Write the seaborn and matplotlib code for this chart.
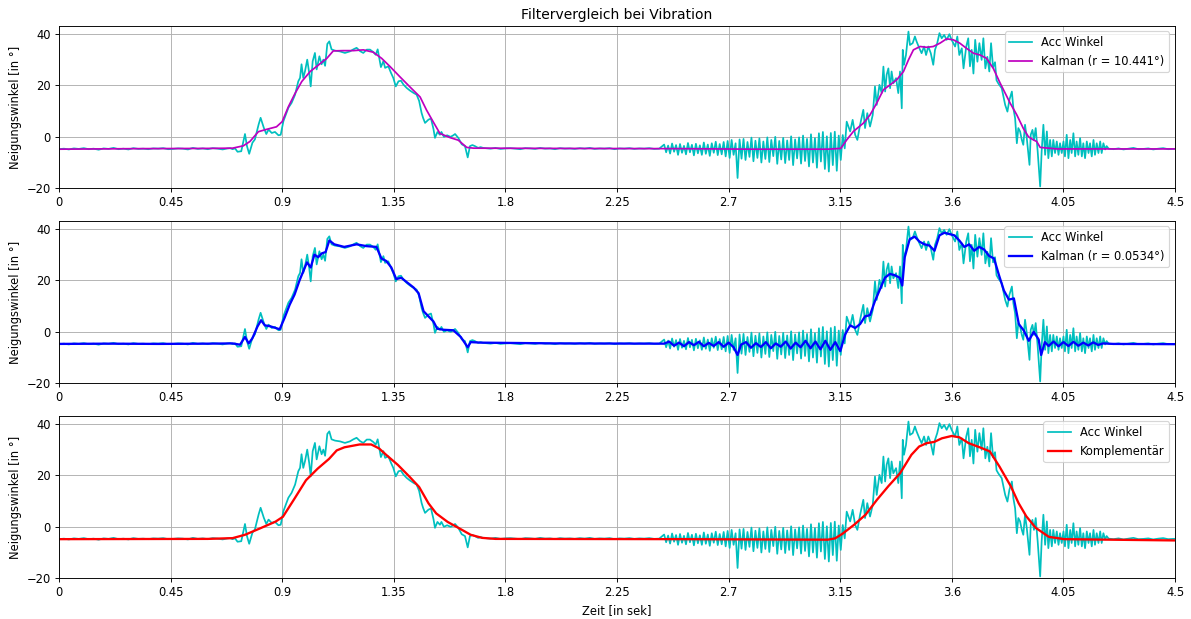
import numpy as np
import matplotlib
matplotlib.use("Agg")
import matplotlib.pyplot as plt
import seaborn as sns

# ---- Acc Winkel (raw accelerometer angle) ----
# calm start, 0 .. 0.68 s, step 0.02
acc_calm1 = [-4.8, -4.6, -4.9, -4.5, -4.7, -4.4, -4.8, -4.6, -5.0, -4.5,
             -4.7, -4.3, -4.8, -4.6, -4.9, -4.4, -4.7, -4.6, -4.8, -4.5,
             -4.6, -4.4, -4.8, -4.7, -4.5, -4.6, -4.9, -4.3, -4.7, -4.5,
             -4.8, -4.4, -4.6, -4.9, -4.5]
# first tilt
acc_bump_t = [0.690, 0.700, 0.710, 0.720, 0.735, 0.750, 0.758, 0.767, 0.780, 0.790,
              0.805, 0.813, 0.826, 0.836, 0.845, 0.858, 0.871, 0.885, 0.894, 0.905,
              0.925, 0.938, 0.952, 0.965, 0.972, 0.978, 0.985, 0.992, 1.001, 1.009,
              1.015, 1.023, 1.032, 1.039, 1.050, 1.059, 1.066, 1.073, 1.082, 1.090,
              1.099, 1.113, 1.133, 1.153, 1.173, 1.187, 1.200, 1.214, 1.227, 1.241,
              1.254, 1.268, 1.277, 1.285, 1.298, 1.308, 1.315, 1.328, 1.339, 1.348,
              1.358, 1.369, 1.379, 1.389, 1.402, 1.415, 1.429, 1.442, 1.452, 1.462,
              1.468, 1.476, 1.490, 1.500, 1.510, 1.516, 1.526, 1.536, 1.542, 1.552,
              1.565, 1.579, 1.590, 1.597, 1.610, 1.624, 1.637, 1.648, 1.657, 1.667,
              1.677, 1.690, 1.700, 1.710]
acc_bump_v = [-4.4, -4.8, -4.5, -5.8, -5.6, 1.1, -3.6, -6.6, -2.3, -1.0,
              4.8, 7.4, 3.5, 1.1, 2.8, 1.5, 1.9, 0.6, 0.8, 6.1,
              11.3, 13.2, 16.4, 21.6, 22.9, 28.2, 22.9, 25.5, 30.0, 24.8,
              19.6, 29.4, 32.6, 26.2, 31.3, 28.2, 30.0, 27.6, 36.1, 37.1,
              34.0, 33.5, 33.2, 32.6, 33.2, 34.0, 34.6, 33.3, 32.6, 33.9,
              33.9, 32.9, 31.9, 34.0, 27.1, 29.4, 26.8, 27.4, 24.8, 22.9,
              19.6, 21.6, 21.8, 20.3, 19.0, 18.0, 17.1, 16.4, 14.0, 9.3,
              7.4, 5.4, 6.7, 7.1, 3.0, -0.4, 1.9, 0.8, 1.9, 0.0,
              0.6, 0.0, 0.6, 1.1, -0.4, -2.9, -3.6, -8.0, -3.6, -3.2,
              -3.6, -4.3, -4.0, -4.3]
# calm middle, 1.72 .. 2.42 s, step 0.02
acc_calm2 = [-4.4, -4.6, -4.3, -4.7, -4.5, -4.4, -4.6, -4.8, -4.4, -4.5,
             -4.7, -4.3, -4.6, -4.5, -4.8, -4.4, -4.6, -4.5, -4.7, -4.4,
             -4.6, -4.3, -4.7, -4.5, -4.6, -4.4, -4.8, -4.5, -4.6, -4.4,
             -4.7, -4.5, -4.6, -4.4, -4.7, -4.6]
# vibration at rest, 2.44 .. 3.144 s, step 0.008
acc_vib = [-3.0, -6.0, -3.4, -6.5, -2.6, -5.8, -3.2, -7.0, -2.8, -6.2,
           -3.5, -6.8, -2.4, -6.0, -3.1, -7.2, -2.7, -6.4, -3.3, -7.0,
           -2.2, -6.6, -3.0, -7.4, -2.5, -6.2, -1.9, -7.1, -2.8, -6.8,
           -2.0, -7.6, -1.6, -8.2, -1.2, -7.0, -2.5, -16.0, -1.0, -8.5,
           -0.8, -9.0, -2.0, -7.8, -0.3, -9.5, -1.5, -8.2, -0.6, -10.0,
           -1.8, -8.6, -0.2, -9.8, -1.2, -7.5, 0.0, -10.5, -1.6, -8.8,
           -0.4, -10.2, -1.4, -9.0, 0.2, -11.0, -1.0, -8.4, -0.2, -10.4,
           0.5, -9.4, -0.8, -11.5, 1.0, -10.0, -0.5, -12.0, 1.4, -9.6,
           1.9, -12.5, 0.2, -13.5, 1.5, -11.0, 2.0, -13.2, 0.5]
# second tilt under vibration
acc_rise_t = [3.152, 3.160, 3.168, 3.176, 3.190, 3.200, 3.210, 3.219, 3.230, 3.243,
              3.250, 3.259, 3.270, 3.281, 3.290, 3.297, 3.308, 3.317, 3.324, 3.331,
              3.337, 3.344, 3.351, 3.357, 3.364, 3.375, 3.384, 3.391, 3.398, 3.402,
              3.407, 3.415, 3.425, 3.431, 3.442, 3.451, 3.458, 3.469, 3.478, 3.488,
              3.496, 3.505, 3.515, 3.525, 3.532, 3.541, 3.550, 3.559, 3.569, 3.579,
              3.590, 3.599, 3.613, 3.622, 3.630, 3.640, 3.647, 3.658, 3.666, 3.673,
              3.680, 3.687, 3.694, 3.703, 3.711, 3.720, 3.727, 3.735, 3.743, 3.751,
              3.758, 3.766, 3.774, 3.780, 3.787, 3.801, 3.815, 3.824, 3.832, 3.842,
              3.848, 3.855, 3.862, 3.868, 3.875, 3.882, 3.888, 3.895, 3.902, 3.913,
              3.918, 3.925, 3.931, 3.938, 3.946, 3.956, 3.962, 3.969, 3.976, 3.983,
              3.989, 3.996, 4.003, 4.009, 4.016, 4.023, 4.030, 4.036, 4.043, 4.050,
              4.056, 4.063, 4.070, 4.077, 4.083, 4.090, 4.097, 4.103, 4.110, 4.117,
              4.124, 4.130, 4.137, 4.144, 4.151, 4.157, 4.164, 4.171, 4.177, 4.184,
              4.191, 4.198, 4.204, 4.211, 4.218, 4.224]
acc_rise_v = [-9.0, 0.7, -4.5, 5.9, 2.1, 6.6, 0.8, -1.2, 4.7, 10.5,
              3.4, 9.2, 4.0, 8.5, 19.6, 12.4, 20.2, 17.0, 27.3, 17.6,
              24.1, 26.6, 18.9, 25.4, 20.8, 22.8, 17.0, 25.4, 11.1, 33.8,
              28.0, 31.8, 40.9, 35.7, 36.4, 39.0, 37.0, 34.4, 32.5, 35.1,
              31.8, 35.1, 32.5, 28.0, 33.8, 36.4, 40.3, 38.3, 39.6, 37.7,
              39.9, 37.7, 35.1, 39.0, 31.8, 34.4, 26.6, 35.1, 38.3, 27.4,
              33.8, 24.6, 37.7, 29.2, 36.4, 29.9, 38.3, 26.6, 31.1, 25.4,
              36.4, 27.0, 29.0, 22.0, 20.8, 18.9, 12.4, 9.8, 14.4, 17.6,
              11.1, 7.2, -2.5, 3.4, 2.1, -1.2, -3.1, 4.7, -0.5, -10.9,
              0.8, 2.7, -1.2, 3.4, -5.7, -19.3, -5.7, 4.7, -7.0, 2.1,
              -8.3, -1.2, -7.6, -1.2, -6.3, -1.8, -7.0, -2.5, -6.3, -1.8,
              -7.6, 0.8, -8.3, -1.2, -6.3, 1.4, -7.6, -1.8, -7.0, -0.5,
              -7.6, -2.5, -8.3, -1.8, -6.3, -2.5, -7.6, -1.2, -7.0, -2.5,
              -6.3, -1.8, -6.3, -2.5, -4.9, -3.6]
# calm end, 4.232 .. 4.512 s, step 0.02
acc_calm3 = [-4.6, -4.8, -4.5, -4.9, -4.6, -4.3, -4.8, -4.7, -4.5, -4.9,
             -4.6, -4.4, -4.8, -4.7, -4.6]

# ---- Kalman (r = 10.441) ----
kal1_t = [0.0, 0.3, 0.6, 0.70, 0.743, 0.77, 0.804, 0.837, 0.877, 0.90,
          0.925, 0.952, 0.979, 1.013, 1.046, 1.08, 1.106, 1.146, 1.187, 1.227,
          1.267, 1.301, 1.335, 1.375, 1.415, 1.456, 1.482, 1.509, 1.536, 1.577,
          1.61, 1.644, 1.671, 2.0, 2.5, 2.8, 3.1, 3.152, 3.176, 3.203,
          3.243, 3.27, 3.297, 3.324, 3.351, 3.378, 3.405, 3.425, 3.445, 3.472,
          3.499, 3.525, 3.552, 3.579, 3.606, 3.632, 3.659, 3.687, 3.714, 3.74,
          3.767, 3.794, 3.835, 3.862, 3.888, 3.909, 3.929, 3.942, 3.956, 4.023,
          4.5]
kal1_v = [-4.8, -4.6, -4.5, -4.4, -3.5, -1.8, 2.0, 2.9, 3.9, 5.9,
          11.7, 16.9, 21.5, 25.4, 27.9, 30.5, 33.4, 33.5, 33.5, 33.8,
          32.9, 30.5, 27.3, 23.3, 19.4, 15.5, 10.4, 5.8, 1.3, -0.3,
          -1.3, -4.1, -4.4, -4.5, -4.6, -4.8, -4.8, -4.5, -1.2, 2.1,
          5.3, 8.5, 13.1, 18.3, 20.2, 22.2, 25.4, 29.9, 33.8, 35.1,
          34.8, 35.1, 36.4, 38.1, 37.7, 36.4, 34.4, 32.5, 31.8, 30.5,
          26.6, 21.0, 13.1, 8.5, 3.3, 0.0, -1.2, -1.8, -4.1, -4.7,
          -4.7]

# ---- Kalman (r = 0.0534) ----
kal2_t = [0.0, 0.2, 0.4, 0.6, 0.70, 0.73, 0.75, 0.765, 0.78, 0.80,
          0.815, 0.83, 0.85, 0.87, 0.89, 0.91, 0.93, 0.95, 0.97, 0.985,
          1.00, 1.015, 1.03, 1.045, 1.06, 1.075, 1.09, 1.11, 1.15, 1.20,
          1.24, 1.28, 1.30, 1.32, 1.34, 1.36, 1.38, 1.40, 1.43, 1.45,
          1.47, 1.49, 1.51, 1.525, 1.55, 1.59, 1.62, 1.648, 1.66, 1.70,
          2.0, 2.44, 2.46, 2.48, 2.50, 2.52, 2.54, 2.56, 2.58, 2.60,
          2.62, 2.64, 2.66, 2.68, 2.70, 2.72, 2.736, 2.75, 2.77, 2.79,
          2.81, 2.83, 2.85, 2.87, 2.89, 2.91, 2.93, 2.95, 2.97, 2.99,
          3.01, 3.03, 3.05, 3.07, 3.09, 3.11, 3.13, 3.15, 3.17, 3.19,
          3.21, 3.23, 3.25, 3.27, 3.29, 3.31, 3.33, 3.35, 3.37, 3.39,
          3.40, 3.41, 3.43, 3.45, 3.47, 3.49, 3.51, 3.53, 3.55, 3.57,
          3.59, 3.61, 3.63, 3.65, 3.67, 3.69, 3.71, 3.73, 3.75, 3.77,
          3.79, 3.81, 3.83, 3.85, 3.87, 3.89, 3.91, 3.93, 3.95, 3.96,
          3.975, 3.99, 4.01, 4.03, 4.05, 4.07, 4.09, 4.11, 4.13, 4.15,
          4.17, 4.19, 4.21, 4.25, 4.5]
kal2_v = [-4.7, -4.6, -4.7, -4.6, -4.5, -5.0, -2.0, -4.5, -2.5, 2.0,
          4.5, 2.5, 2.2, 1.6, 1.0, 5.5, 10.5, 14.5, 20.0, 23.5,
          27.0, 25.0, 30.0, 29.0, 30.5, 31.0, 35.5, 34.0, 33.0, 34.0,
          33.3, 33.0, 28.5, 27.5, 25.0, 20.5, 21.0, 19.5, 17.2, 15.0,
          8.0, 6.0, 4.0, 1.2, 0.8, 0.6, -2.0, -6.0, -4.0, -4.2,
          -4.5, -4.6, -3.8, -5.4, -4.2, -5.6, -4.0, -5.2, -3.9, -5.6,
          -4.3, -5.5, -4.0, -5.8, -4.2, -6.0, -9.0, -5.0, -4.0, -6.2,
          -4.4, -5.9, -4.0, -6.4, -4.5, -5.8, -3.8, -6.5, -4.2, -6.0,
          -3.5, -6.4, -3.8, -6.8, -3.5, -7.0, -4.0, -7.5, -1.0, 2.5,
          1.5, 3.0, 6.0, 6.5, 12.0, 16.5, 21.0, 22.5, 22.0, 21.0,
          18.0, 29.0, 36.0, 37.0, 35.0, 34.0, 33.5, 31.5, 37.5, 38.5,
          38.0, 37.5, 35.5, 33.0, 34.0, 31.5, 33.0, 32.0, 29.5, 28.5,
          22.0, 16.0, 12.5, 13.0, 3.0, 0.5, -3.5, 0.0, -3.0, -9.0,
          -4.0, -5.5, -3.8, -5.6, -4.0, -5.5, -3.9, -5.4, -4.2, -5.3,
          -4.1, -5.1, -4.5, -4.7, -4.8]

# ---- Komplementaer ----
komp_t = [0.0, 0.6, 0.70, 0.75, 0.811, 0.873, 0.903, 0.95, 0.996, 1.043,
          1.089, 1.12, 1.151, 1.212, 1.259, 1.29, 1.32, 1.367, 1.413, 1.452,
          1.49, 1.521, 1.567, 1.614, 1.66, 1.706, 1.76, 2.5, 3.10, 3.129,
          3.159, 3.206, 3.252, 3.298, 3.345, 3.391, 3.437, 3.468, 3.498, 3.529,
          3.56, 3.599, 3.63, 3.668, 3.715, 3.753, 3.792, 3.838, 3.869, 3.90,
          3.938, 3.991, 4.053, 4.5]
komp_v = [-4.8, -4.7, -4.4, -3.1, -0.6, 2.0, 3.9, 11.0, 18.1, 22.6,
          26.4, 29.7, 30.9, 32.0, 32.0, 30.5, 27.9, 24.0, 19.5, 15.5,
          9.1, 5.2, 1.9, -0.6, -3.1, -4.3, -4.7, -4.8, -5.0, -4.5,
          -2.7, 0.8, 4.7, 10.5, 15.9, 20.8, 28.0, 31.2, 32.5, 33.0,
          34.4, 35.3, 34.8, 32.5, 30.8, 29.3, 23.4, 15.7, 9.2, 4.1,
          -0.4, -3.9, -4.8, -5.3]

xtick_labels = ["0", "0.45", "0.9", "1.35", "1.8", "2.25", "2.7", "3.15", "3.6", "4.05", "4.5"]
ytick_vals = [-20, 0, 20, 40]

acc_t = np.concatenate([
    0.0 + 0.02 * np.arange(len(acc_calm1)),
    acc_bump_t,
    1.72 + 0.02 * np.arange(len(acc_calm2)),
    2.44 + 0.008 * np.arange(len(acc_vib)),
    acc_rise_t,
    4.232 + 0.02 * np.arange(len(acc_calm3)),
])
acc_v = np.concatenate([acc_calm1, acc_bump_v, acc_calm2, acc_vib, acc_rise_v, acc_calm3])

filters = [
    (kal1_t, kal1_v, "m", 1.5, "Kalman (r = 10.441°)"),
    (kal2_t, kal2_v, "b", 2.0, "Kalman (r = 0.0534°)"),
    (komp_t, komp_v, "r", 2.0, "Komplementär"),
]

fig, axes = plt.subplots(3, 1, figsize=(14.35, 7.458), dpi=83)
fig.subplots_adjust(left=0.0495, right=0.9866, top=0.9585, bottom=0.0658, hspace=0.199)

for ax, (ft, fv, col, lw, lab) in zip(axes, filters):
    sns.lineplot(x=acc_t, y=acc_v, ax=ax, color="c", linewidth=1.5,
                 estimator=None, sort=False, label="Acc Winkel")
    sns.lineplot(x=np.array(ft), y=np.array(fv), ax=ax, color=col, linewidth=lw,
                 estimator=None, sort=False, label=lab)
    ax.set_xlim(0, 4.5)
    ax.set_ylim(-20, 43.2)
    ax.set_xticks([float(s) for s in xtick_labels])
    ax.set_xticklabels(xtick_labels)
    ax.set_yticks(ytick_vals)
    ax.grid(True)
    ax.set_ylabel("Neigungswinkel [in °]")
    ax.set_xlabel("")
    ax.legend(loc="upper right")

axes[0].set_title("Filtervergleich bei Vibration")
axes[2].set_xlabel("Zeit [in sek]")

fig.savefig("out.png", dpi=83)
